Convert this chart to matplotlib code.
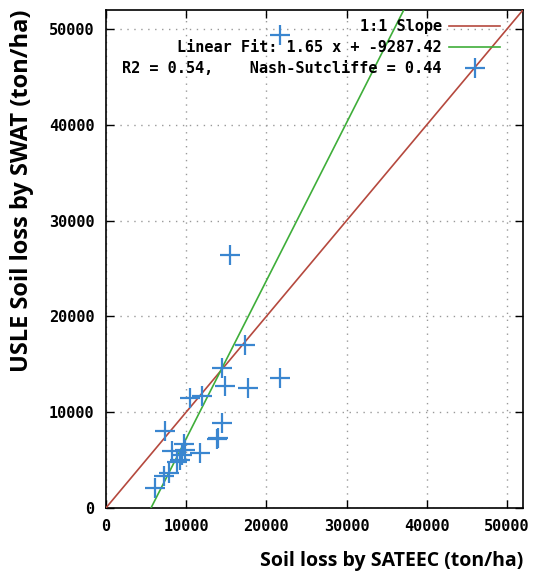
import matplotlib
matplotlib.use("Agg")
import matplotlib.pyplot as plt
import numpy as np

# Data
sateec = [17330, 14430, 14850, 17730, 21660, 10520, 11970, 7430, 14430, 13820,
          13950, 8250, 9690, 11760, 9480, 9280, 8900, 7220, 7830, 6190,
          15470, 21660, 9900]
swat = [17050, 14620, 12710, 12530, 13570, 11490, 11670, 8020, 8890, 7160,
        7350, 5940, 6640, 5760, 5590, 5070, 4800, 3330, 3680, 2110,
        26430, 49340, 6100]
slope, intercept = 1.65, -9287.42
ticks = [0, 10000, 20000, 30000, 40000, 50000]
xlim = (0, 52000)
ylim = (0, 52000)

mono = "DejaVu Sans Mono"
fig = plt.figure(figsize=(5.37, 5.82), dpi=100)
ax = fig.add_axes([0.197, 0.127, 0.777, 0.856])

xs = np.array(xlim, dtype=float)
ax.plot(xs, xs, color="#b5493e", lw=1.2, label="1:1 Slope", zorder=3)
ax.plot(xs, slope * xs + intercept, color="#3fae3a", lw=1.2,
        label="Linear Fit: 1.65 x + -9287.42", zorder=3)
ax.plot(sateec, swat, linestyle="none", marker="+", markersize=15, mew=1.6,
        color="#3a86d0", label="R2 = 0.54,    Nash-Sutcliffe = 0.44", zorder=4)

ax.set_xlim(*xlim)
ax.set_ylim(*ylim)
ax.set_xticks(ticks)
ax.set_yticks(ticks)
ax.grid(True, linestyle=(0, (1, 4)), color="#999999", lw=1)
ax.tick_params(direction="in", length=6, width=1, top=True, right=True,
               pad=8, labelsize=11)
for lab in ax.get_xticklabels() + ax.get_yticklabels():
    lab.set_fontfamily(mono)
    lab.set_fontweight("bold")
for s in ax.spines.values():
    s.set_linewidth(1.2)

leg = ax.legend(loc="upper right", bbox_to_anchor=(0.959, 0.994),
                markerfirst=False, frameon=False,
                prop={"family": mono, "weight": "bold", "size": 11},
                handlelength=3.3, labelspacing=0.4, borderaxespad=0.0,
                handletextpad=0.5)
for t in leg.get_texts():
    t.set_ha("right")

ax.set_xlabel("Soil loss by SATEEC (ton/ha)", fontsize=14, fontweight="bold",
              family="Open Sans", loc="right", labelpad=12)
ax.set_ylabel("USLE Soil loss by SWAT (ton/ha)", fontsize=17, fontweight="bold",
              family="Open Sans", loc="top", labelpad=11)

fig.savefig("out.png", dpi=100)
